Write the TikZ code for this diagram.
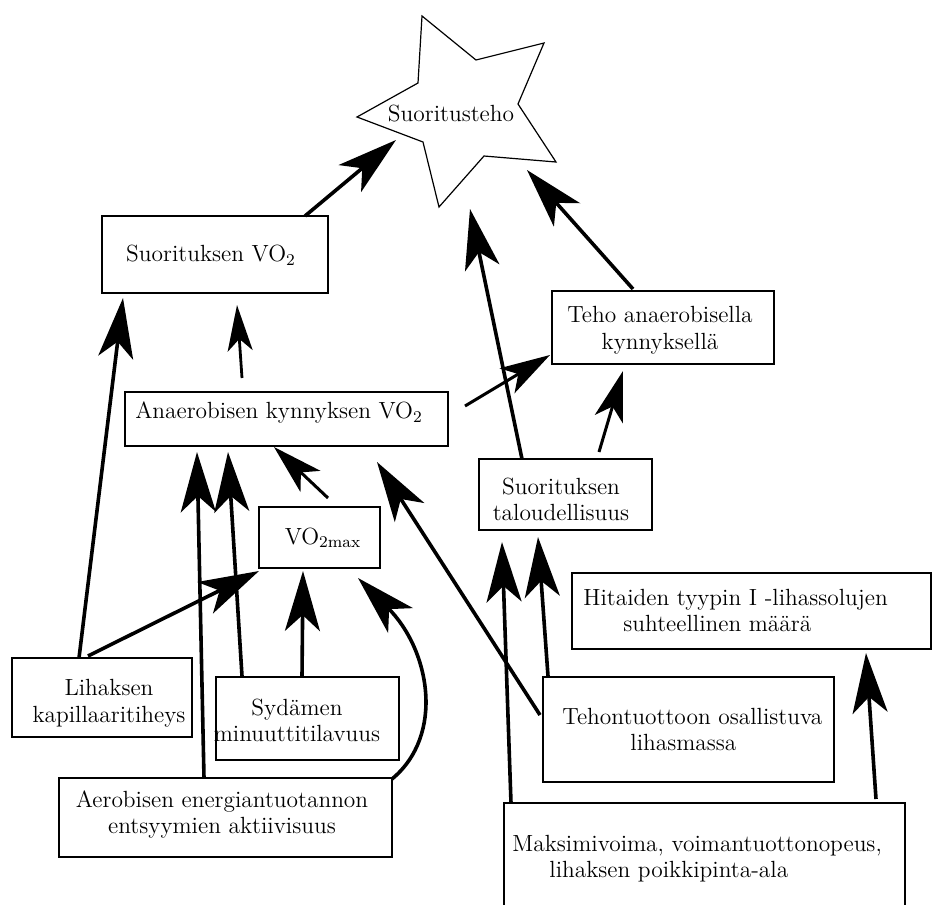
\documentclass[tikz,border=0pt]{standalone}
\usetikzlibrary{arrows.meta}
\begin{document}
\begin{tikzpicture}[x=0.5pt,y=-0.5pt,
  box/.style={draw, line width=0.6pt, inner sep=0pt},
  txt/.style={font=\fontsize{11.7}{13.3}\selectfont, inner sep=0pt, align=center},
  txtl/.style={font=\fontsize{11.7}{13.3}\selectfont, inner sep=0pt, align=left, anchor=west},
  big/.style={line width=1.8pt, -{Stealth[length=30pt,width=17.5pt,inset=8pt]}},
  med/.style={line width=1.5pt, -{Stealth[length=25pt,width=14.5pt,inset=6.5pt]}},
  sml/.style={line width=1.4pt, -{Stealth[length=23pt,width=12.5pt,inset=6pt]}}]
\useasboundingbox (0,0) rectangle (933,905);
\clip (0,0) rectangle (933,905);

% star
\draw[line width=0.6pt] (422,16) -- (476,60) -- (544,43) -- (518,104) -- (556,162)
  -- (484,156) -- (439,207) -- (423,142) -- (357,117) -- (418,83) -- cycle;
\node[txt] (perf) at (451,114) {Suoritusteho};

% boxes
\node[box, minimum width=113pt, minimum height=38.5pt] (svo) at (215,254.5) {};
\node[txt] at (211,255) {Suorituksen VO\textsubscript{2}};

\node[box, minimum width=161.5pt, minimum height=27pt] (akv) at (286.5,419) {};
\node[txt] at (279,413) {Anaerobisen kynnyksen VO\textsubscript{2}};

\node[box, minimum width=60.5pt, minimum height=30.5pt] (vmax) at (319.5,537.5) {};
\node[txt] at (323,538) {VO\textsubscript{2max}};

\node[box, minimum width=90pt, minimum height=39.5pt] (kap) at (102,697.5) {};
\node[txt] at (109,703) {Lihaksen\\kapillaaritiheys};

\node[box, minimum width=91.5pt, minimum height=41.5pt] (syd) at (307.5,718.5) {};
\node[txt] at (297,720.5) {Sydämen\\minuuttitilavuus};

\node[box, minimum width=166.5pt, minimum height=39.5pt] (aer) at (225.5,817.5) {};
\node[txt] at (222,814.5) {Aerobisen energiantuotannon\\entsyymien aktiivisuus};

\node[box, minimum width=111pt, minimum height=36.5pt] (teho) at (663,327.5) {};
\node[txt] at (660,330) {Teho anaerobisella\\kynnyksellä};

\node[box, minimum width=86.5pt, minimum height=35.5pt] (tal) at (565.5,494.5) {};
\node[txt] at (561,499.5) {Suorituksen\\taloudellisuus};

\node[box, minimum width=179.5pt, minimum height=38pt] (hit) at (751.5,611) {};
\node[txtl] at (583,610.5) {Hitaiden tyypin I -lihassolujen\\\hspace*{20pt}suhteellinen määrä};

\node[box, minimum width=145.5pt, minimum height=52.5pt] (lm) at (688.5,729.5) {};
\node[txtl] at (562,729.5) {Tehontuottoon osallistuva\\\hspace*{34pt}lihasmassa};

\node[box, minimum width=200.5pt, minimum height=71pt] (mv) at (704.5,874) {};
\node[txtl] at (512,858.5) {Maksimivoima, voimantuottonopeus,\\\hspace*{18.5pt}lihaksen poikkipinta-ala};

% arrow end points
\coordinate (s1) at (305,216);   \coordinate (t1) at (396,140);
\coordinate (s2) at (522,459);   \coordinate (t2) at (470,209);
\coordinate (s3) at (633,289);   \coordinate (t3) at (527,170);
\coordinate (s4) at (79,658);    \coordinate (t4) at (123,298);
\coordinate (s5) at (242,378);   \coordinate (t5) at (237,305);
\coordinate (s6) at (465,406);   \coordinate (t6) at (550,355);
\coordinate (s7) at (599,452);   \coordinate (t7) at (623,371);
\coordinate (s8) at (328,498);   \coordinate (t8) at (274,447);
\coordinate (s9) at (88,656);    \coordinate (t9) at (259,571);
\coordinate (s10) at (204,778);  \coordinate (t10) at (197,452);
\coordinate (s11) at (242,676);  \coordinate (t11) at (228,452);
\coordinate (s12) at (302,677);  \coordinate (t12) at (303,571);
\coordinate (s13) at (392,779);  \coordinate (t13) at (358,578);
\coordinate (s14) at (540,715);  \coordinate (t14) at (377,462);
\coordinate (s15) at (511,803);  \coordinate (t15) at (502,542);
\coordinate (s16) at (548,676);  \coordinate (t16) at (538,537);
\coordinate (s17) at (876,799);  \coordinate (t17) at (866,653);

\draw[big] (s1) -- (t1);
\draw[big] (s2) -- (t2);
\draw[big] (s3) -- (t3);
\draw[big] (s4) -- (t4);
\draw[sml] (s5) -- (t5);
\draw[med] (s6) -- (t6);
\draw[med] (s7) -- (t7);
\draw[med] (s8) -- (t8);
\draw[big] (s9) -- (t9);
\draw[big] (s10) -- (t10);
\draw[big] (s11) -- (t11);
\draw[big] (s12) -- (t12);
\draw[big] (s13) .. controls (445,735) and (430,650) .. (t13);
\draw[big] (s14) -- (t14);
\draw[big] (s15) -- (t15);
\draw[big] (s16) -- (t16);
\draw[big] (s17) -- (t17);
\end{tikzpicture}
\end{document}
